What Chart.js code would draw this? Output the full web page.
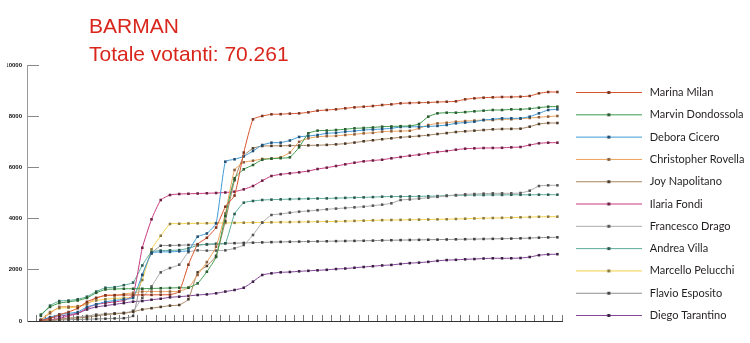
<!DOCTYPE html>
<html lang="it">
<head>
<meta charset="UTF-8">
<title>BARMAN - Totale votanti: 70.261</title>
<script src="https://cdn.jsdelivr.net/npm/chart.js"></script>
<style>
    body { margin: 0; background: #fff; }
    .wrap { position: relative; width: 750px; height: 343px; }
    .title {
        position: absolute; left: 89px; top: 12px;
        font-family: 'Liberation Sans', Arial, sans-serif;
        font-size: 21px; line-height: 27.7px; color: #d9261c;
    }
</style>
</head>
<body>
<div class="wrap">
    <div class="title">BARMAN<br>Totale votanti: 70.261</div>
    <canvas id="chart"></canvas>
</div>
<script>
// --- data (vote counts per update, 57 updates) ---
const rounds = [0, 1, 2, 3, 4, 5, 6, 7, 8, 9, 10, 11, 12, 13, 14, 15, 16, 17, 18, 19,
    20, 21, 22, 23, 24, 25, 26, 27, 28, 29, 30, 31, 32, 33, 34, 35, 36, 37, 38, 39,
    40, 41, 42, 43, 44, 45, 46, 47, 48, 49, 50, 51, 52, 53, 54, 55, 56, 57];

const names = ['Marina Milan', 'Marvin Dondossola', 'Debora Cicero', 'Christopher Rovella',
    'Joy Napolitano', 'Ilaria Fondi', 'Francesco Drago', 'Andrea Villa',
    'Marcello Pelucchi', 'Flavio Esposito', 'Diego Tarantino'];

const marina = [20, 100, 250, 350, 500, 750, 900, 1000, 1010, 1016, 1016, 1020, 1020, 1025, 1030, 1145, 2200, 3000, 3250, 3650,
    4465, 4900, 6580, 7878, 8008, 8073, 8080, 8100, 8112, 8151, 8216, 8242, 8268, 8307, 8346, 8372, 8398, 8437, 8463, 8503,
    8515, 8528, 8535, 8554, 8565, 8581, 8659, 8698, 8724, 8737, 8750, 8750, 8763, 8789, 8893, 8945, 8945];
const marvin = [250, 550, 700, 750, 800, 900, 1100, 1230, 1250, 1260, 1260, 1260, 1270, 1280, 1290, 1300, 1300, 1470, 1926, 2500,
    4100, 5573, 5925, 6094, 6300, 6340, 6360, 6393, 6784, 7331, 7435, 7440, 7461, 7490, 7526, 7540, 7560, 7591, 7600, 7610,
    7620, 7695, 7982, 8112, 8138, 8138, 8160, 8190, 8216, 8242, 8242, 8268, 8268, 8294, 8333, 8372, 8372];
const debora = [30, 150, 250, 300, 350, 550, 650, 750, 800, 850, 900, 1800, 2650, 2700, 2700, 2720, 2750, 3294, 3420, 3815,
    6223, 6316, 6430, 6640, 6875, 6965, 6968, 7050, 7190, 7227, 7266, 7331, 7350, 7396, 7420, 7461, 7480, 7500, 7526, 7578,
    7585, 7591, 7600, 7620, 7656, 7721, 7750, 7786, 7851, 7880, 7917, 7917, 7920, 7982, 8112, 8242, 8268];
const christopher = [50, 300, 550, 560, 580, 650, 900, 1000, 1000, 1050, 1100, 1150, 1150, 1150, 1150, 1160, 1300, 1800, 2300, 2900,
    4200, 5900, 6200, 6260, 6330, 6350, 6393, 6580, 7000, 7136, 7200, 7220, 7230, 7266, 7290, 7331, 7350, 7396, 7410, 7420,
    7430, 7526, 7656, 7720, 7745, 7786, 7810, 7830, 7850, 7850, 7878, 7880, 7900, 7930, 7960, 7985, 8008];
const joy = [0, 30, 60, 100, 120, 150, 200, 250, 280, 300, 360, 450, 500, 550, 600, 625, 850, 1900, 2150, 2550,
    3900, 5500, 6450, 6745, 6836, 6840, 6845, 6850, 6855, 6860, 6865, 6880, 6900, 6930, 6970, 7020, 7060, 7100, 7136, 7175,
    7200, 7227, 7260, 7305, 7340, 7383, 7410, 7435, 7460, 7487, 7500, 7505, 7513, 7591, 7695, 7734, 7734];
const ilaria = [0, 50, 100, 200, 300, 500, 650, 700, 750, 800, 1000, 2860, 3972, 4726, 4922, 4960, 4970, 4980, 4990, 5000,
    5020, 5051, 5143, 5273, 5481, 5664, 5729, 5768, 5807, 5859, 5937, 5990, 6054, 6120, 6184, 6237, 6270, 6300, 6355, 6406,
    6458, 6497, 6550, 6601, 6640, 6692, 6731, 6744, 6757, 6760, 6765, 6783, 6797, 6875, 6940, 6965, 6965];
const francesco = [0, 40, 80, 120, 150, 200, 250, 280, 300, 320, 400, 900, 1350, 1900, 2070, 2200, 2690, 2760, 2750, 2750,
    2760, 2838, 2969, 3359, 3841, 4141, 4180, 4232, 4271, 4300, 4330, 4362, 4390, 4414, 4440, 4466, 4505, 4544, 4597, 4727,
    4750, 4780, 4817, 4850, 4883, 4920, 4948, 4960, 4975, 4987, 4987, 4987, 5000, 5090, 5273, 5300, 5300];
const andrea = [200, 600, 780, 800, 850, 950, 1150, 1300, 1320, 1400, 1500, 2170, 2700, 2750, 2760, 2770, 2840, 2950, 3000, 3020,
    3035, 4180, 4622, 4688, 4727, 4740, 4750, 4760, 4770, 4777, 4785, 4790, 4800, 4810, 4820, 4830, 4840, 4856, 4860, 4862,
    4865, 4870, 4875, 4880, 4900, 4909, 4915, 4920, 4920, 4925, 4925, 4930, 4930, 4930, 4934, 4934, 4934];
const marcello = [30, 350, 500, 520, 550, 700, 800, 850, 880, 900, 950, 1600, 2800, 3330, 3790, 3800, 3810, 3815, 3820, 3825,
    3830, 3835, 3840, 3845, 3850, 3855, 3860, 3865, 3870, 3875, 3880, 3885, 3890, 3900, 3910, 3920, 3930, 3940, 3945, 3950,
    3955, 3960, 3965, 3970, 3975, 3985, 3995, 4005, 4015, 4023, 4030, 4040, 4050, 4060, 4070, 4075, 4075];
const flavio = [0, 20, 40, 50, 60, 70, 80, 90, 100, 110, 200, 1800, 2640, 2940, 2950, 2960, 2970, 2980, 2990, 3000,
    3035, 3040, 3050, 3060, 3070, 3080, 3090, 3095, 3100, 3105, 3110, 3115, 3120, 3125, 3130, 3135, 3140, 3150, 3155, 3160,
    3165, 3170, 3175, 3180, 3185, 3190, 3195, 3200, 3205, 3210, 3215, 3220, 3230, 3240, 3255, 3265, 3269];
const diego = [40, 120, 180, 250, 300, 450, 550, 600, 650, 700, 755, 780, 830, 870, 925, 950, 980, 1016, 1040, 1081,
    1150, 1211, 1300, 1536, 1797, 1862, 1901, 1914, 1940, 1960, 1980, 2000, 2030, 2050, 2080, 2110, 2140, 2170, 2190, 2230,
    2260, 2280, 2310, 2350, 2380, 2390, 2410, 2420, 2440, 2450, 2450, 2450, 2460, 2500, 2570, 2600, 2610];

const yTicks = [0, 2000, 4000, 6000, 8000, 10000];

// --- styles ---
const lineColors = ['#d9532b', '#3c9a4c', '#3d9ad6', '#eea25a', '#a7835f', '#c83a80',
    '#ababab', '#5aab9a', '#f2d048', '#8f8f8f', '#84449a'];
const dotColors = ['#7a3520', '#2a5a30', '#224d70', '#8a6040', '#4a3a2a', '#6a2040',
    '#555555', '#2a5a50', '#8a7a40', '#404040', '#3a2040'];

const values = [marina, marvin, debora, christopher, joy, ilaria, francesco, andrea, marcello, flavio, diego];

// first band of the axis is empty, so every series starts with a gap
const datasets = names.map((name, i) => ({
    label: name,
    data: [null, ...values[i]],
    borderColor: lineColors[i],
    backgroundColor: lineColors[i],
    borderWidth: 1,
    pointStyle: 'rect',
    pointRadius: 1.8,
    pointBorderWidth: 0,
    pointBackgroundColor: dotColors[i],
    tension: 0.15,
    fill: false
}));

// legend sample: a line with a dot in the middle
function legendIcon(line, dot) {
    const c = document.createElement('canvas');
    c.width = 66; c.height = 5;
    const g = c.getContext('2d');
    g.strokeStyle = line; g.lineWidth = 1.2;
    g.beginPath(); g.moveTo(0, 2.5); g.lineTo(66, 2.5); g.stroke();
    g.fillStyle = dot; g.fillRect(31.5, 1, 3, 3);
    return c;
}
const icons = lineColors.map((c, i) => legendIcon(c, dotColors[i]));

new Chart(document.getElementById('chart'), {
    type: 'line',
    data: { labels: rounds, datasets: datasets },
    options: {
        responsive: true,
        maintainAspectRatio: false,
        animation: false,
        layout: { padding: { left: 7, top: 65, right: 3, bottom: 0 } },
        plugins: {
            tooltip: { enabled: false },
            legend: {
                position: 'right',
                labels: {
                    usePointStyle: true,
                    pointStyleWidth: 71,
                    padding: 11.3,
                    color: '#231f20',
                    font: { family: 'Lato', size: 11 },
                    generateLabels: chart => Chart.defaults.plugins.legend.labels.generateLabels(chart)
                        .map((item, i) => ({ ...item, pointStyle: icons[i] }))
                }
            }
        },
        scales: {
            x: {
                offset: true,
                grid: { offset: true, drawOnChartArea: false, tickLength: -6, color: '#555', lineWidth: 0.8 },
                border: { color: '#333', width: 1 },
                ticks: { display: false },
                afterFit: s => { s.height = 22; }
            },
            y: {
                min: 0,
                max: 10000,
                afterBuildTicks: s => { s.ticks = yTicks.map(v => ({ value: v })); },
                ticks: {
                    padding: 17,
                    color: '#111',
                    font: { family: 'Liberation Sans', size: 6, weight: 'bold' },
                    callback: v => String(v)
                },
                grid: { drawOnChartArea: false, tickLength: -12, color: '#888' },
                border: { color: '#999', width: 1 },
                afterFit: s => { s.width = 20; }
            }
        }
    }
});
</script>
</body>
</html>
